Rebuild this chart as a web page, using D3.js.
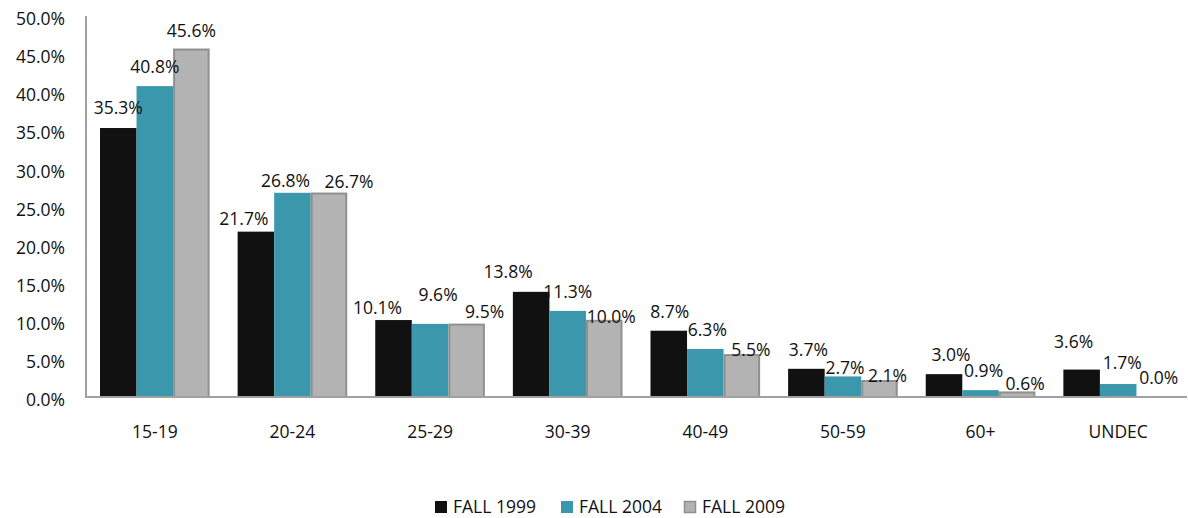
<!doctype html>
<html lang="en">
<head>
<meta charset="utf-8">
<script src="https://d3js.org/d3.v7.min.js"></script>
<style>
  body { margin: 0; background: #fff; }
  text { font-family: "Open Sans", sans-serif; fill: #111; }
</style>
</head>
<body>
<div id="chart"></div>
<script>
// data
var categories = ["15-19", "20-24", "25-29", "30-39", "40-49", "50-59", "60+", "UNDEC"];
var seriesNames = ["FALL 1999", "FALL 2004", "FALL 2009"];
var fall1999 = [35.3, 21.7, 10.1, 13.8, 8.7, 3.7, 3.0, 3.6];
var fall2004 = [40.8, 26.8, 9.6, 11.3, 6.3, 2.7, 0.9, 1.7];
var fall2009 = [45.6, 26.7, 9.5, 10.0, 5.5, 2.1, 0.6, 0.0];
var yTicks = [0, 5, 10, 15, 20, 25, 30, 35, 40, 45, 50];

// label nudges (px) so the labels sit where the original put them
var labelDx = [
  [0, -12, -16, -23, 1, 2, 7, -8],
  [0, -7, 8, 0, 2, 2, 3, 4],
  [0, 20, 18, 7, 9, 8, 8, 4]
];
var labelDy = [
  [-20, -13, -12, -20, -19, -19, -19, -28],
  [-19, -12, -29, -19, -19, -9, -19, -21],
  [-19, -12, -13, -4, -5, -5, -9, -19]
];

var colors = ["#111111", "#3b97ab", "#b3b3b3"];
var strokes = ["none", "none", "#909090"];
var fs = "17.5px";

var W = 1188, H = 518;
var svg = d3.select("#chart").append("svg")
  .attr("width", W).attr("height", H);

var x = d3.scaleBand().domain(categories).range([86, 1187]);
var xs = d3.scaleBand().domain(d3.range(3)).range([14, x.bandwidth() - 14]);
var y = d3.scaleLinear().domain([0, 50]).range([397, 16]);

var seriesVals = [fall1999, fall2004, fall2009];

// bars
seriesVals.forEach(function(vals, s) {
  svg.append("g").selectAll("rect")
    .data(vals)
    .enter().append("rect")
    .attr("x", function(d, i) { return x(categories[i]) + xs(s) + (s == 2 ? 1 : 0); })
    .attr("width", xs.bandwidth() - (s == 2 ? 2 : 0))
    .attr("y", function(d) { return y(d); })
    .attr("height", function(d) { return y(0) - y(d); })
    .attr("fill", colors[s])
    .attr("stroke", strokes[s])
    .attr("stroke-width", 2);
});

// axes lines
svg.append("line").attr("x1", 86).attr("x2", 86).attr("y1", 16).attr("y2", 397)
  .attr("stroke", "#a0a0a0").attr("stroke-width", 2);
svg.append("line").attr("x1", 85).attr("x2", 1187).attr("y1", 397).attr("y2", 397)
  .attr("stroke", "#a0a0a0").attr("stroke-width", 2);

// y tick labels
svg.append("g").selectAll("text")
  .data(yTicks)
  .enter().append("text")
  .attr("x", 65)
  .attr("y", function(d) { return y(d) + 3; })
  .attr("dy", "0.35em")
  .attr("text-anchor", "end")
  .style("font-size", fs)
  .text(function(d) { return d3.format(".1f")(d) + "%"; });

// x labels
svg.append("g").selectAll("text")
  .data(categories)
  .enter().append("text")
  .attr("x", function(d) { return x(d) + x.bandwidth() / 2; })
  .attr("y", 432)
  .attr("dy", "0.35em")
  .attr("text-anchor", "middle")
  .style("font-size", fs)
  .text(function(d) { return d; });

// value labels
seriesVals.forEach(function(vals, s) {
  svg.append("g").selectAll("text")
    .data(vals)
    .enter().append("text")
    .attr("x", function(d, i) { return x(categories[i]) + xs(s) + xs.bandwidth() / 2 + labelDx[s][i]; })
    .attr("y", function(d, i) { return y(d) + labelDy[s][i]; })
    .attr("dy", "0.35em")
    .attr("text-anchor", "middle")
    .style("font-size", fs)
    .text(function(d) { return d3.format(".1f")(d) + "%"; });
});

// legend
var legendX = [435, 561, 684];
var lg = svg.append("g").selectAll("g")
  .data(seriesNames)
  .enter().append("g")
  .attr("transform", function(d, i) { return "translate(" + legendX[i] + ",501)"; });
lg.append("rect")
  .attr("width", function(d, i) { return i == 2 ? 11 : 12; })
  .attr("height", function(d, i) { return i == 2 ? 11 : 12; })
  .attr("x", function(d, i) { return i == 2 ? 0.5 : 0; })
  .attr("y", function(d, i) { return i == 2 ? 0.5 : 0; })
  .attr("fill", function(d, i) { return colors[i]; })
  .attr("stroke", function(d, i) { return strokes[i]; })
  .attr("stroke-width", 1.5);
lg.append("text")
  .attr("x", 18)
  .attr("y", 6)
  .attr("dy", "0.35em")
  .style("font-size", fs)
  .text(function(d) { return d; });
</script>
</body>
</html>
